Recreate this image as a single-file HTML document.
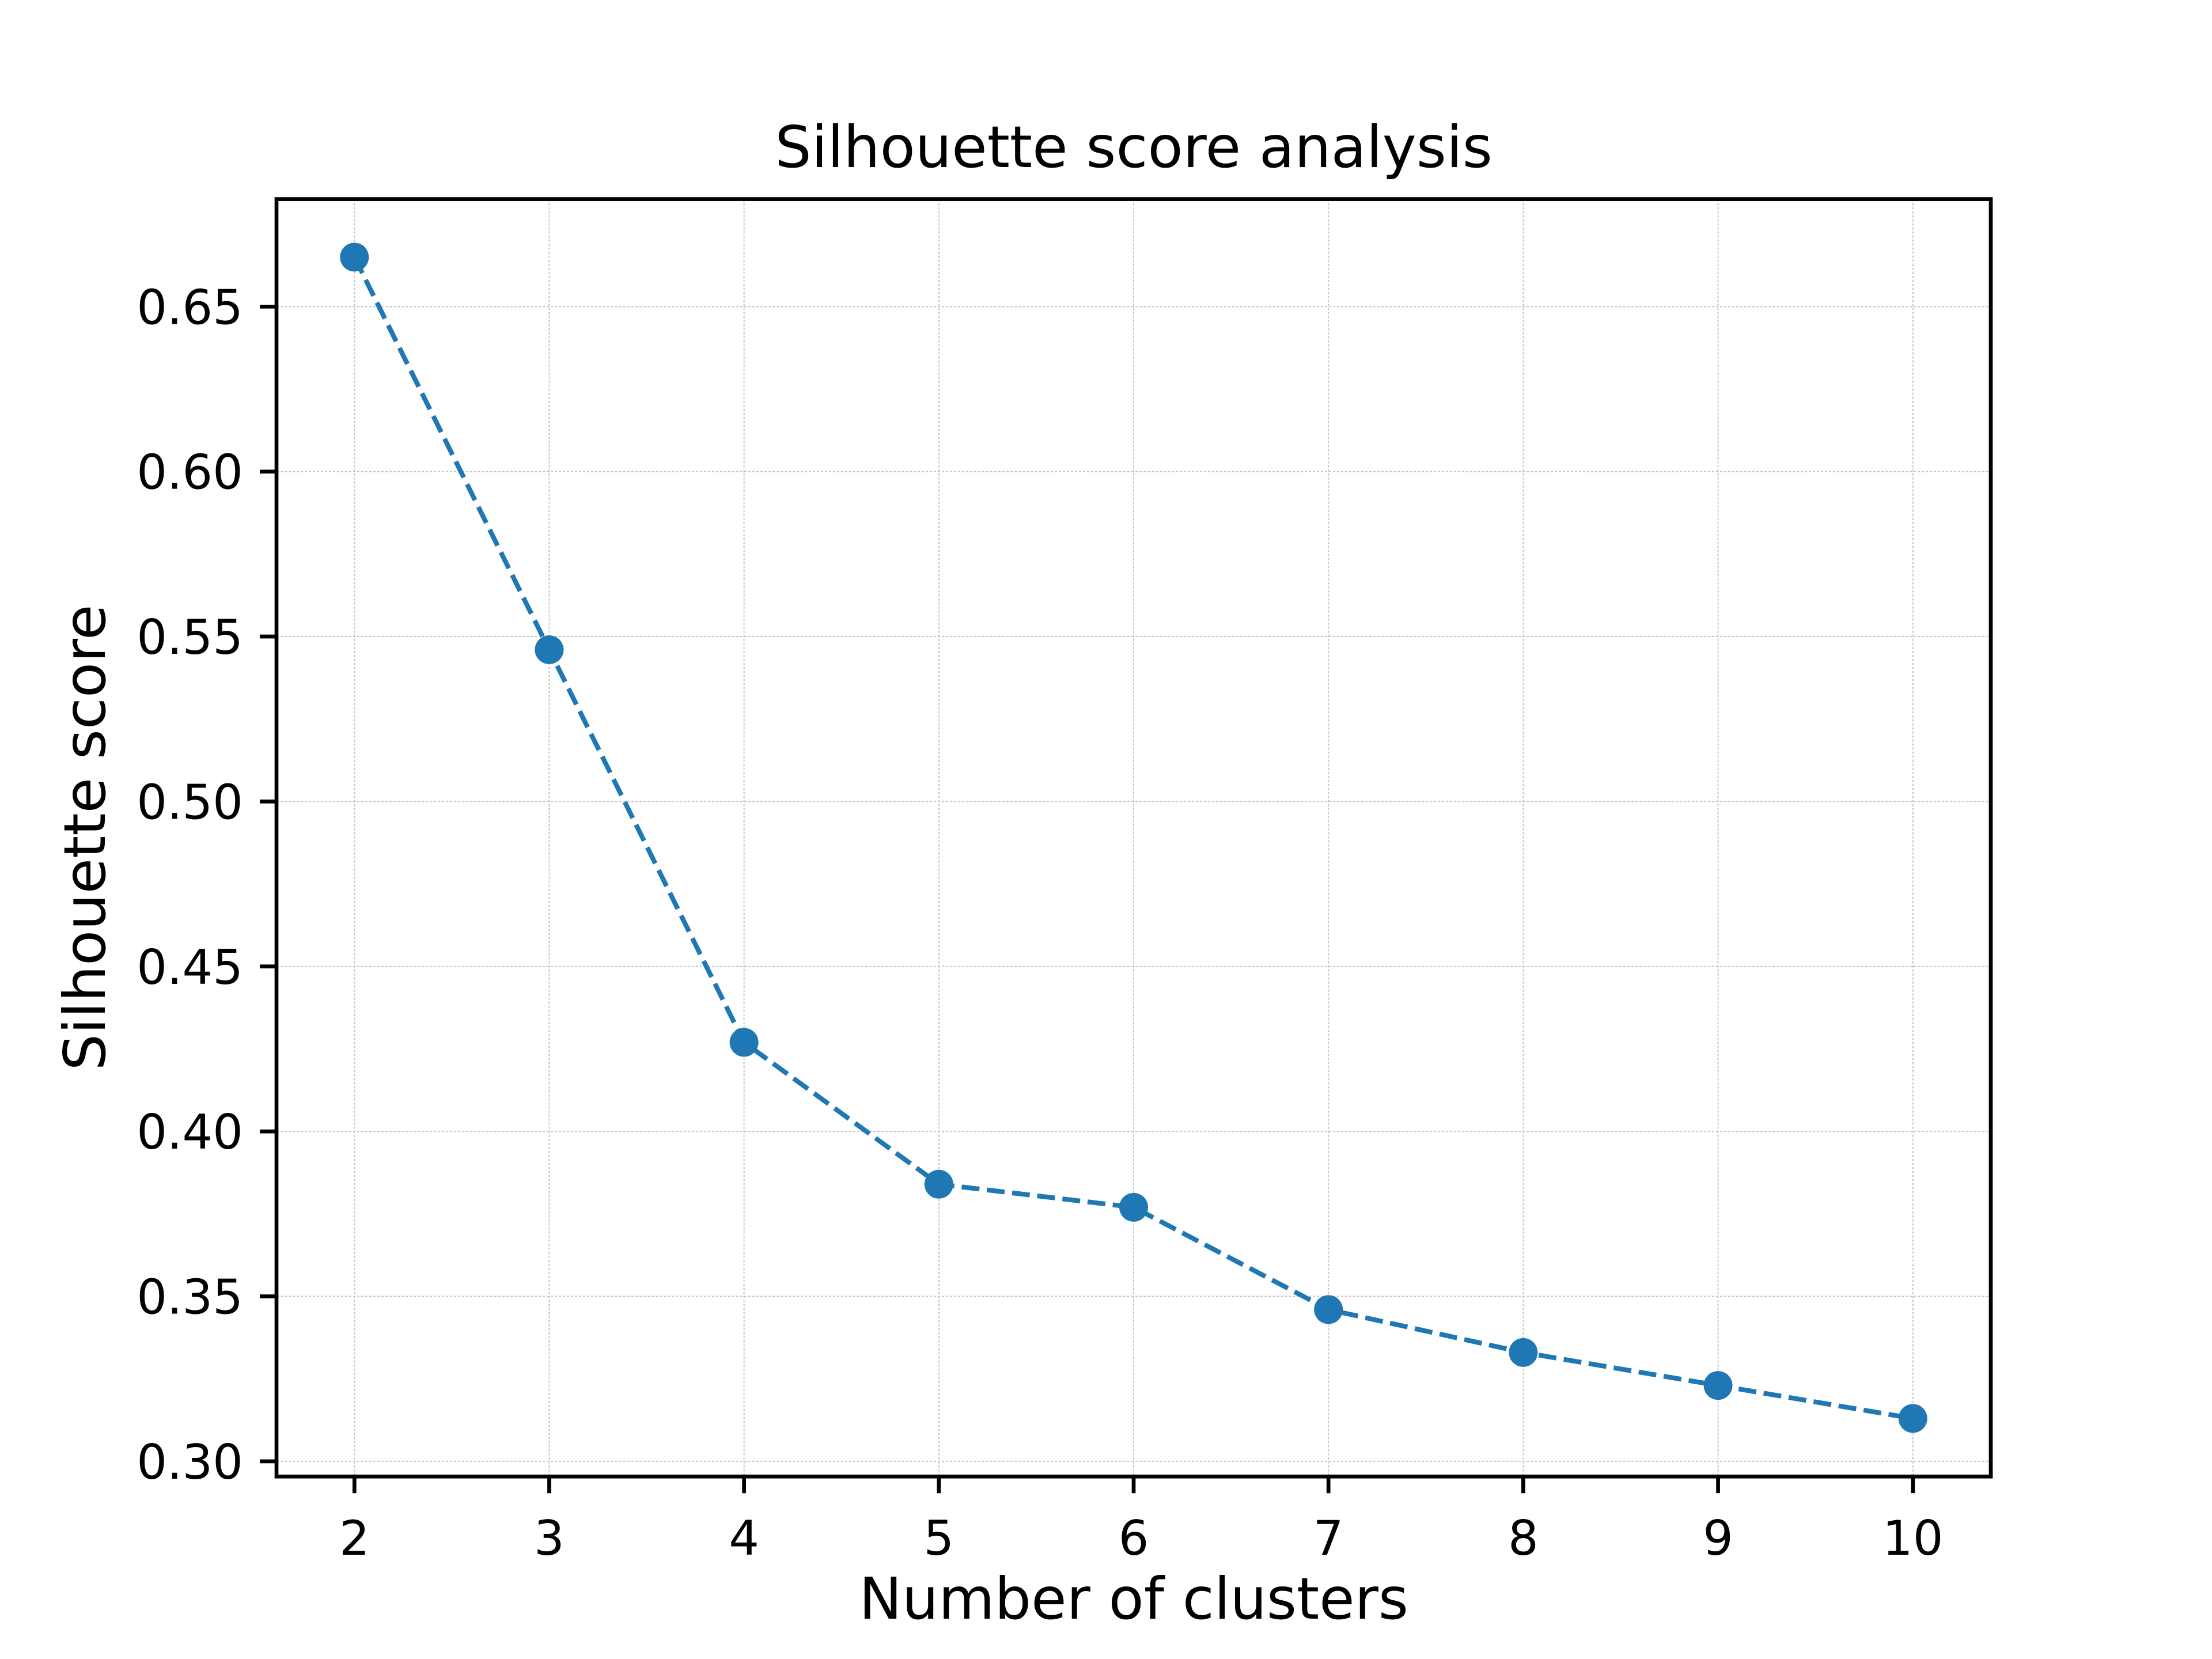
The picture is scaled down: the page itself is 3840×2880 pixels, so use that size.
<!DOCTYPE html>
<html><head><meta charset="utf-8"><style>
html,body{margin:0;padding:0;background:#fff;}
svg{display:block;font-family:"DejaVu Sans","Liberation Sans",sans-serif;}
</style></head><body>
<svg id="chart" width="3840" height="2880" viewBox="0 0 3840 2880" xmlns="http://www.w3.org/2000/svg">
<rect width="3840" height="2880" fill="#fff"/>
<g id="grid"></g>
<g id="series"></g>
<rect x="480" y="345.6" width="2976" height="2217.6" fill="none" stroke="#000" stroke-width="6.7"/>
<g id="ticks"></g>
<text x="1968" y="290" font-size="100" text-anchor="middle">Silhouette score analysis</text>
<text x="1968" y="2810" font-size="100" text-anchor="middle">Number of clusters</text>
<text x="0" y="0" font-size="100" text-anchor="middle" transform="translate(182,1454) rotate(-90)">Silhouette score</text>
</svg>
<script>
const clusters = [2,3,4,5,6,7,8,9,10];
const scores = [0.665,0.546,0.427,0.384,0.377,0.346,0.333,0.323,0.313];
const yTicks = [0.30,0.35,0.40,0.45,0.50,0.55,0.60,0.65];
const yTickLabels = ["0.30","0.35","0.40","0.45","0.50","0.55","0.60","0.65"];

const NS="http://www.w3.org/2000/svg";
const L=480,R=3456,T=345.6,B=2563.2;
const xmin=Math.min(...clusters),xmax=Math.max(...clusters);
const xm=(xmax-xmin)*0.05;
const ymin=Math.min(...scores),ymax=Math.max(...scores);
const ym=(ymax-ymin)*0.05;
const X=v=>L+(v-(xmin-xm))/((xmax+xm)-(xmin-xm))*(R-L);
const Y=v=>B-(v-(ymin-ym))/((ymax+ym)-(ymin-ym))*(B-T);
function mk(tag,attrs,parent){const e=document.createElementNS(NS,tag);for(const k in attrs)e.setAttribute(k,attrs[k]);parent.appendChild(e);return e;}
const grid=document.getElementById('grid'),ticks=document.getElementById('ticks'),series=document.getElementById('series');
clusters.forEach(c=>{
  const x=X(c);
  const g=mk('line',{x1:x,x2:x,y1:T,y2:B,stroke:'#c4c4c4','stroke-width':2,'stroke-dasharray':'4 3'},grid);
  
  
  const t=mk('line',{x1:x,x2:x,y1:B,y2:B+29,stroke:'#000','stroke-width':6.7},ticks);
  
  
  const lb=mk('text',{x:x,y:B+58+78,'font-size':83,'text-anchor':'middle'},ticks);
  lb.textContent=String(c);
  
  
});
yTicks.forEach((v,i)=>{
  const y=Y(v);
  const g=mk('line',{x1:L,x2:R,y1:y,y2:y,stroke:'#c4c4c4','stroke-width':2,'stroke-dasharray':'4 3'},grid);
  
  
  const t=mk('line',{x1:L-29,x2:L,y1:y,y2:y,stroke:'#000','stroke-width':6.7},ticks);
  
  
  const lb=mk('text',{x:L-58,y:y+30,'font-size':83,'text-anchor':'end'},ticks);
  lb.textContent=yTickLabels[i];
  
  
});
const pts=clusters.map((c,i)=>X(c)+','+Y(scores[i])).join(' ');
const line=mk('polyline',{points:pts,fill:'none',stroke:'#1f77b4','stroke-width':8.3,'stroke-dasharray':'31 13'},series);


clusters.forEach((c,i)=>{
  const m=mk('circle',{cx:X(c),cy:Y(scores[i]),r:25,fill:'#1f77b4'},series);
  
  
});
</script>
</body></html>
